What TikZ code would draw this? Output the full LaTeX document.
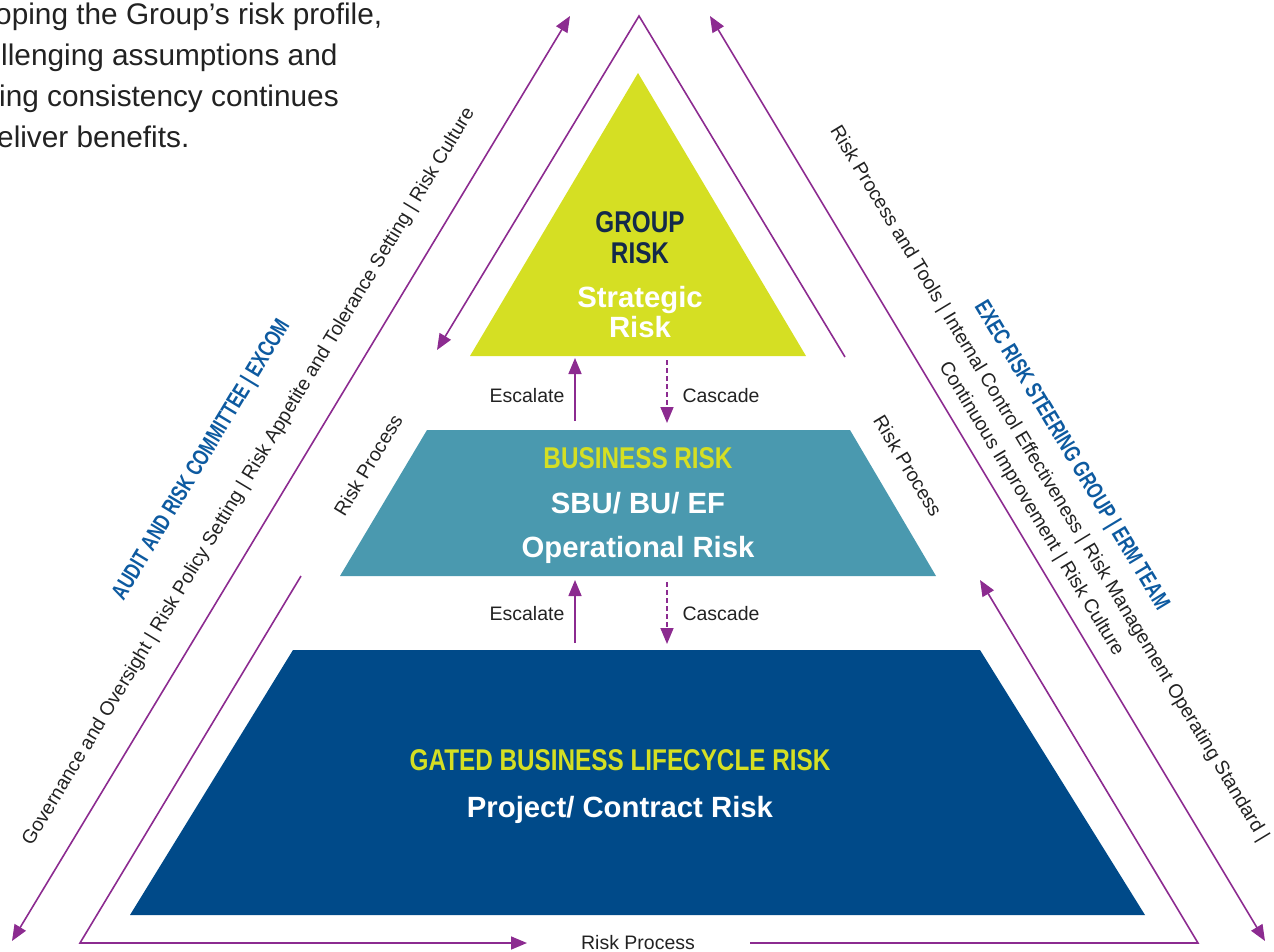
\documentclass[tikz,border=0pt]{standalone}
\usepackage{fontspec}
\setmainfont{Liberation Sans}
\newfontfamily\condfont[FakeStretch=0.81]{Liberation Sans}
\newfontfamily\sidefont[FakeStretch=0.74]{Liberation Sans}
\usetikzlibrary{arrows.meta}
\definecolor{purp}{HTML}{8C2B90}
\definecolor{ylw}{HTML}{D5DF23}
\definecolor{tealc}{HTML}{4A99AF}
\definecolor{dblue}{HTML}{004A89}
\definecolor{navy}{HTML}{13294A}
\definecolor{lblue}{HTML}{0D5AA0}
\definecolor{txt}{HTML}{222222}
\begin{document}
\begin{tikzpicture}[x=1pt,y={(0,-1pt)},
  small/.style={font=\fontsize{19.5}{23}\selectfont, text=txt, inner sep=0},
  para/.style={font=\fontsize{29.8}{40}\selectfont, text=txt, inner sep=0, anchor=base west},
  ttl/.style={font=\condfont\bfseries\fontsize{30}{34}\selectfont, inner sep=0, anchor=base},
  sidettl/.style={font=\sidefont\bfseries\fontsize{23}{26}\selectfont, text=lblue, inner sep=0},
  wht/.style={font=\bfseries\fontsize{29.3}{32}\selectfont, text=white, inner sep=0, anchor=base},
  pline/.style={draw=purp, line width=1.6, line join=miter},
  tip/.style={-{Triangle[length=16pt,width=13pt]}},
  dtip/.style={{Triangle[length=16pt,width=13pt]}-{Triangle[length=16pt,width=13pt]}}
]
\useasboundingbox (0,0) rectangle (1274,952);

% top-left paragraph (clipped by the page edge)
\node[para] (par1) at (-5,25) {oping the Group’s risk profile,};
\node[para] (par2) at (1,66) {llenging assumptions and};
\node[para] (par3) at (-1,107) {ing consistency continues};
\node[para] (par4) at (-3,148) {eliver benefits.};

% pyramid levels
\coordinate (ya) at (638,73);
\coordinate (yr) at (806,356);
\coordinate (yl) at (470,356);
\fill[ylw] (ya) -- (yr) -- (yl) -- cycle;

\coordinate (tl1) at (427,430);
\coordinate (tr1) at (850,430);
\coordinate (tr2) at (936,576);
\coordinate (tl2) at (340,576);
\fill[tealc] (tl1) -- (tr1) -- (tr2) -- (tl2) -- cycle;

\coordinate (bl1) at (293,650);
\coordinate (br1) at (980,650);
\coordinate (br2) at (1145,915);
\coordinate (bl2) at (130,915);
\fill[dblue] (bl1) -- (br1) -- (br2) -- (bl2) -- cycle;

% level texts
\node[ttl, text=navy] (g1) at (640,233) {GROUP};
\node[ttl, text=navy] (g2) at (640,263) {RISK};
\node[wht] (s1) at (640,307) {Strategic};
\node[wht] (s2) at (640,337) {Risk};

\node[ttl, text=ylw] (b1) at (638,468) {BUSINESS RISK};
\node[wht] (b2) at (638,513) {SBU/ BU/ EF};
\node[wht] (b3) at (638,557) {Operational Risk};

\node[ttl, text=ylw] (l1) at (620,770) {GATED BUSINESS LIFECYCLE RISK};
\node[wht] (l2) at (620,817) {Project/ Contract Risk};

% escalate / cascade
\coordinate (e1t) at (575,421);
\coordinate (e1h) at (575,358);
\coordinate (c1t) at (667,360);
\coordinate (c1h) at (667,423);
\coordinate (e2t) at (575,643);
\coordinate (e2h) at (575,580);
\coordinate (c2t) at (667,582);
\coordinate (c2h) at (667,644);
\draw[pline,tip] (e1t) -- (e1h);
\draw[pline,tip,dash pattern=on 5pt off 3pt] (c1t) -- (c1h);
\draw[pline,tip] (e2t) -- (e2h);
\draw[pline,tip,dash pattern=on 5pt off 3pt] (c2t) -- (c2h);
\node[small, anchor=base] (esc1) at (527,402) {Escalate};
\node[small, anchor=base] (cas1) at (721,402) {Cascade};
\node[small, anchor=base] (esc2) at (527,620) {Escalate};
\node[small, anchor=base] (cas2) at (721,620) {Cascade};

% outer risk-process cycle
\coordinate (A) at (639,16);
\coordinate (BL) at (80,943);
\coordinate (BR) at (1198,943);
\coordinate (q1) at (437,350);
\coordinate (q2) at (301,576);
\coordinate (q3) at (527,943);
\coordinate (q4) at (750,943);
\coordinate (q5) at (980,580);
\coordinate (q6) at (845,357);
\draw[pline,tip] (q6) -- (A) -- (q1);
\draw[pline,tip] (q2) -- (BL) -- (q3);
\draw[pline,tip] (q4) -- (BR) -- (q5);
\node[small, rotate=58.9] (rpl) at (368,465) {Risk Process};
\node[small, rotate=-58.9] (rpr) at (908,466) {Risk Process};
\node[small, anchor=base] (rpb) at (638,949) {Risk Process};

% outer double arrows
\coordinate (dl1) at (570,16);
\coordinate (dl2) at (12,941);
\coordinate (dr1) at (710,16);
\coordinate (dr2) at (1265,941);
\draw[pline,dtip] (dl1) -- (dl2);
\draw[pline,dtip] (dr1) -- (dr2);

% side labels
\node[small, rotate=58.9] (govtxt) at (249,477) {Governance and Oversight | Risk Policy Setting | Risk Appetite and Tolerance Setting | Risk Culture};
\node[sidettl, rotate=58.9] (audit) at (202,460) {AUDIT AND RISK COMMITTEE | EXCOM};
\node[small, rotate=-58.9] (rt1) at (1049,484) {Risk Process and Tools | Internal Control Effectiveness | Risk Management Operating Standard |};
\node[small, rotate=-58.9] (rt2) at (1031,509) {Continuous Improvement | Risk Culture};
\node[sidettl, rotate=-58.9] (exec) at (1071,456) {EXEC RISK STEERING GROUP | ERM TEAM};
\end{tikzpicture}
\end{document}
